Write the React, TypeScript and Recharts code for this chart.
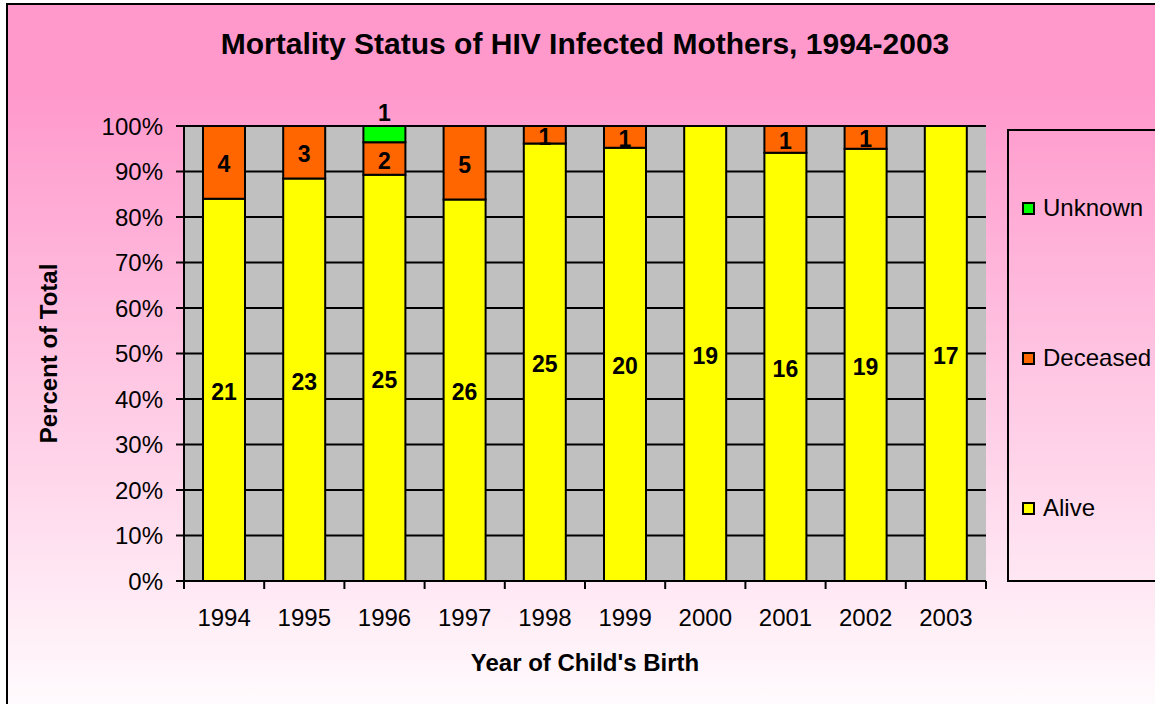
import React from 'react';
import { BarChart, Bar, XAxis, YAxis, CartesianGrid, LabelList, Legend } from 'recharts';

const years = ['1994', '1995', '1996', '1997', '1998', '1999', '2000', '2001', '2002', '2003'];
const alive = [21, 23, 25, 26, 25, 20, 19, 16, 19, 17];
const deceased = [4, 3, 2, 5, 1, 1, 0, 1, 1, 0];
const unknown = [0, 0, 1, 0, 0, 0, 0, 0, 0, 0];
const yTicks = [0, 10, 20, 30, 40, 50, 60, 70, 80, 90, 100];

const seriesNames = { alive: 'Alive', deceased: 'Deceased', unknown: 'Unknown' };
const seriesColors = { alive: '#FFFF00', deceased: '#FF6600', unknown: '#00FF00' };

const data = years.map((year, i) => {
  const total = alive[i] + deceased[i] + unknown[i];
  return {
    year,
    alive: alive[i],
    deceased: deceased[i],
    unknown: unknown[i],
    alivePct: (alive[i] / total) * 100,
    deceasedPct: (deceased[i] / total) * 100,
    unknownPct: (unknown[i] / total) * 100,
  };
});

const FONT = "Arial, 'Liberation Sans', sans-serif";

const makeLabel = (pos: 'center' | 'top') => (props: any) => {
  const { x, y, width, height, value } = props;
  if (!value) return null;
  const cx = Number(x) + Number(width) / 2;
  const cy = pos === 'top' ? Number(y) - 13 : Number(y) + Number(height) / 2 + 2;
  return (
    <text x={cx} y={cy} textAnchor="middle" dominantBaseline="central" fontFamily={FONT} fontWeight="bold" fontSize={23} fill="#000">
      {value}
    </text>
  );
};

const XTick = (props: any) => {
  const { x, y, payload, index } = props;
  const half = payload && payload.offset ? payload.offset : 40.1;
  return (
    <g>
      <line x1={x - half} x2={x - half} y1={y} y2={y + 8} stroke="#000" strokeWidth={2} />
      {index === years.length - 1 && (
        <line x1={x + half} x2={x + half} y1={y} y2={y + 8} stroke="#000" strokeWidth={2} />
      )}
      <text x={x} y={y + 36} textAnchor="middle" dominantBaseline="central" fontFamily={FONT} fontSize={24} fill="#000">
        {payload.value}
      </text>
    </g>
  );
};

const renderLegend = () => {
  const order: Array<'unknown' | 'deceased' | 'alive'> = ['unknown', 'deceased', 'alive'];
  const tops = [77, 227, 377];
  return (
    <div style={{ position: 'relative', width: 160, height: 453, border: '2px solid #000', boxSizing: 'border-box' }}>
      {order.map((k, i) => (
        <div key={k} style={{ position: 'absolute', left: 13, top: tops[i] - 14, height: 28, display: 'flex', alignItems: 'center', whiteSpace: 'nowrap' }}>
          <span style={{ display: 'inline-block', width: 9, height: 9, background: seriesColors[k], border: '2px solid #000', marginRight: 8 }} />
          <span style={{ fontFamily: FONT, fontSize: 24, color: '#000', lineHeight: '28px' }}>{seriesNames[k]}</span>
        </div>
      ))}
    </div>
  );
};

export default function App() {
  return (
    <div style={{ position: 'absolute', left: 0, top: 0, width: 1155, height: 704, overflow: 'hidden', background: '#fff' }}>
      <div
        style={{
          position: 'absolute',
          left: 6,
          top: 3,
          width: 1250,
          height: 730,
          border: '2px solid #000',
          boxSizing: 'border-box',
          background: 'linear-gradient(to bottom, #FF99CC 0%, #FF99CC 12%, #FFFFFF 100%)',
        }}
      />
      <div
        style={{
          position: 'absolute',
          left: 0,
          width: 1170,
          top: 27,
          textAlign: 'center',
          fontFamily: FONT,
          fontWeight: 'bold',
          fontSize: 30,
          lineHeight: '34px',
          color: '#000',
        }}
      >
        Mortality Status of HIV Infected Mothers, 1994-2003
      </div>
      <div style={{ position: 'absolute', left: 0, top: 0 }}>
        <BarChart
          width={1155}
          height={704}
          data={data}
          margin={{ top: 126, right: 9, left: 0, bottom: 63 }}
          barCategoryGap="45%"
        >
          <CartesianGrid vertical={false} stroke="#000" strokeWidth={2} fill="#C0C0C0" fillOpacity={1} />
          <XAxis
            dataKey="year"
            height={60}
            tickSize={0}
            tickMargin={0}
            tickLine={false}
            tick={<XTick />}
            axisLine={{ stroke: '#000', strokeWidth: 2 }}
            interval={0}
            label={{
              content: (p: any) => {
                const vb = p.viewBox || {};
                return (
                  <text x={vb.x + vb.width / 2} y={662} textAnchor="middle" dominantBaseline="central" fontFamily={FONT} fontWeight="bold" fontSize={24} fill="#000">
                    Year of Child's Birth
                  </text>
                );
              },
            }}
          />
          <XAxis xAxisId="top" dataKey="year" orientation="top" height={0} tick={false} tickLine={false} axisLine={{ stroke: '#808080', strokeWidth: 2 }} />
          <YAxis
            width={184}
            domain={[0, 100]}
            ticks={yTicks}
            interval={0}
            tickFormatter={(v: number) => `${v}%`}
            tick={{ fontFamily: FONT, fontSize: 24, fill: '#000' }}
            tickSize={8}
            tickMargin={13}
            tickLine={{ stroke: '#000', strokeWidth: 2 }}
            axisLine={{ stroke: '#000', strokeWidth: 2 }}
            label={{
              content: (p: any) => {
                const vb = p.viewBox || {};
                const cy = vb.y + vb.height / 2;
                return (
                  <text x={48} y={cy} transform={`rotate(-90, 48, ${cy})`} textAnchor="middle" dominantBaseline="central" fontFamily={FONT} fontWeight="bold" fontSize={24} fill="#000">
                    Percent of Total
                  </text>
                );
              },
            }}
          />
          <YAxis yAxisId="right" orientation="right" width={0} domain={[0, 100]} tick={false} tickLine={false} axisLine={{ stroke: '#808080', strokeWidth: 2 }} />
          <Legend
            layout="vertical"
            align="right"
            verticalAlign="top"
            content={renderLegend}
            wrapperStyle={{ position: 'absolute', left: 1007, top: 129, width: 160, height: 453 }}
          />
          <Bar dataKey="alivePct" name="Alive" stackId="s" fill="#FFFF00" stroke="#000" strokeWidth={2} barSize={42} isAnimationActive={false}>
            <LabelList dataKey="alive" content={makeLabel('center')} />
          </Bar>
          <Bar dataKey="deceasedPct" name="Deceased" stackId="s" fill="#FF6600" stroke="#000" strokeWidth={2} barSize={42} isAnimationActive={false}>
            <LabelList dataKey="deceased" content={makeLabel('center')} />
          </Bar>
          <Bar dataKey="unknownPct" name="Unknown" stackId="s" fill="#00FF00" stroke="#000" strokeWidth={2} barSize={42} isAnimationActive={false}>
            <LabelList dataKey="unknown" content={makeLabel('top')} />
          </Bar>
        </BarChart>
      </div>
    </div>
  );
}
